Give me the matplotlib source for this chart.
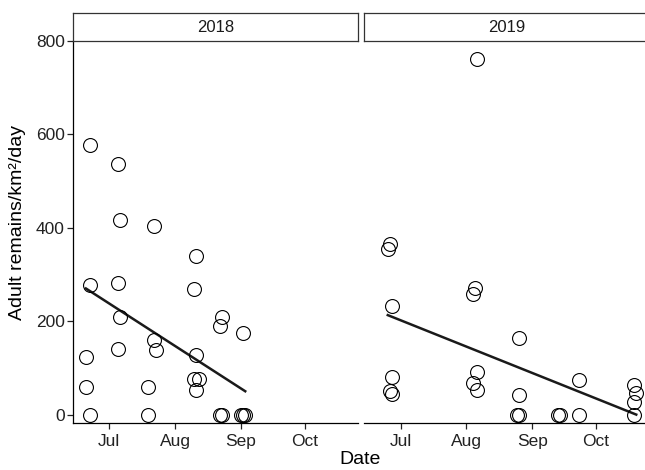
import matplotlib
matplotlib.use("Agg")
import matplotlib.pyplot as plt
import matplotlib.dates as mdates
import numpy as np
import pandas as pd

plt.rcParams['font.family'] = ['Liberation Sans', 'DejaVu Sans']

# adult remains per km2 per day, by sampling date
dates_2018 = [
    "2018-06-22", "2018-06-22", "2018-06-20", "2018-06-20", "2018-06-22",
    "2018-07-05", "2018-07-06", "2018-07-05", "2018-07-06", "2018-07-05",
    "2018-07-22", "2018-07-22", "2018-07-23", "2018-07-19", "2018-07-19",
    "2018-08-11", "2018-08-10", "2018-08-11", "2018-08-10", "2018-08-12", "2018-08-11",
    "2018-08-23", "2018-08-22", "2018-09-02",
    "2018-08-22", "2018-08-23", "2018-09-01", "2018-09-02", "2018-09-03",
]
values_2018 = [
    577, 277, 124, 60, 0,
    537, 416, 281, 208, 140,
    404, 160, 139, 60, 0,
    340, 270, 128, 77, 77, 53,
    209, 189, 174,
    0, 0, 0, 0, 0,
]

dates_2019 = [
    "2019-06-26", "2019-06-25", "2019-06-27", "2019-06-27", "2019-06-26", "2019-06-27",
    "2019-08-06", "2019-08-05", "2019-08-04", "2019-08-06", "2019-08-04", "2019-08-06",
    "2019-08-26", "2019-08-26", "2019-08-25", "2019-08-26",
    "2019-09-13", "2019-09-14", "2019-09-23", "2019-09-23",
    "2019-10-19", "2019-10-20", "2019-10-19", "2019-10-19",
]
values_2019 = [
    365, 355, 233, 81, 50, 44,
    762, 272, 258, 92, 68, 53,
    165, 41, 0, 0,
    0, 0, 74, 0,
    64, 46, 27, 0,
]

# fitted trend (value at first and last sampling date)
trend_2018 = [270, 50]
trend_2019 = [213, 0]

years = ["2018", "2019"]
y_ticks = [0, 200, 400, 600, 800]
month_ticks = ["2000-07-01", "2000-08-01", "2000-09-01", "2000-10-01"]
month_labels = ["Jul", "Aug", "Sep", "Oct"]


def to_common_year(dates):
    # put both seasons on the same calendar so the facets share an x scale
    d = pd.to_datetime(dates)
    return mdates.date2num([x.replace(year=2000) for x in d])


xs = [to_common_year(dates_2018), to_common_year(dates_2019)]
ys = [np.array(values_2018, float), np.array(values_2019, float)]
trends = [trend_2018, trend_2019]

all_x = np.concatenate(xs)
xr = all_x.max() - all_x.min()
xlim = (all_x.min() - 0.05 * xr, all_x.max() + 0.05 * xr)
ylim = (-18, 800)

fig = plt.figure(figsize=(6.45, 4.70), dpi=100)
W, H = 645.0, 470.0
panel_left = [73, 364.2]
panel_w = 285
panel_top, panel_bot = 41, 423
strip_top = 13

for i, year in enumerate(years):
    ax = fig.add_axes([panel_left[i] / W, 1 - panel_bot / H,
                       panel_w / W, (panel_bot - panel_top) / H])
    x, y = xs[i], ys[i]
    ax.plot(x, y, 'o', ms=10, mfc='none', mec='black', mew=0.8, zorder=3)

    fx = [x.min(), x.max()]
    ax.plot(fx, trends[i], color='#1a1a1a', lw=1.8, zorder=2)

    ax.set_xlim(*xlim)
    ax.set_ylim(*ylim)
    ax.set_xticks(to_common_year(month_ticks))
    ax.set_xticklabels(month_labels)
    ax.set_yticks(y_ticks)
    for s in ['top', 'right']:
        ax.spines[s].set_visible(False)
    ax.spines['bottom'].set_linewidth(0.9)
    ax.spines['left'].set_linewidth(0.9)
    ax.tick_params(length=4, width=0.9, labelsize=12.5, colors='#222222')
    ax.tick_params(axis='x', pad=4)
    ax.tick_params(axis='y', pad=2)
    if i == 1:
        ax.spines['left'].set_visible(False)
        ax.tick_params(axis='y', left=False, labelleft=False)

    # facet strip
    sax = fig.add_axes([panel_left[i] / W, 1 - panel_top / H,
                        (panel_w + 0.5) / W, (panel_top - strip_top) / H])
    sax.set_xticks([])
    sax.set_yticks([])
    for s in sax.spines.values():
        s.set_linewidth(0.9)
        s.set_color('#333333')
    sax.text(0.5, 0.5, year, ha='center', va='center', fontsize=12,
             color='#1a1a1a', transform=sax.transAxes)

fig.text(18 / W, 1 - 223 / H, "Adult remains/km²/day", rotation=90,
         ha='center', va='center', fontsize=14)
fig.text(360 / W, 1 - 459 / H, "Date", ha='center', va='center', fontsize=14)

fig.savefig("out.png", dpi=100)
